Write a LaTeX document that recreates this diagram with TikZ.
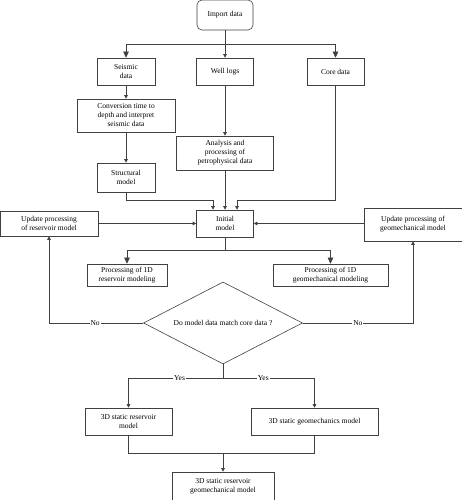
\documentclass[tikz,border=0pt]{standalone}
\usepackage{fontspec}
\setmainfont{Liberation Serif}
\usetikzlibrary{positioning, shapes.geometric, arrows.meta, calc}

\begin{document}
\begin{tikzpicture}[node distance=40pt and 100pt, on grid,
  every node/.style={font=\fontsize{7.5}{9}\selectfont},
  box/.style={draw=black!75, rectangle, align=center, inner sep=1pt, line width=0.6pt},
  lbl/.style={fill=white, inner sep=1pt},
  line/.style={draw=black!75, line width=0.6pt},
  >={Triangle[length=3.5pt, width=3.5pt]},
  big/.style={-{Triangle[length=6pt, width=5.5pt]}}]
  \useasboundingbox (0,0) rectangle (462pt,500pt);

  \node[box, rounded corners=5pt, minimum width=56pt, minimum height=30pt] (import) at (225pt,485pt) {Import data};

  \node[box, minimum width=58pt, minimum height=27pt, below left=56.5pt and 99pt of import] (seismic) {Seismic\\data};
  \node[box, minimum width=57pt, minimum height=27pt, below=56.5pt of import] (welllogs) {Well logs};
  \node[box, minimum width=57pt, minimum height=27pt, below right=56.5pt and 110.5pt of import] (core) {Core data};

  \node[box, minimum width=98pt, minimum height=33pt, below=44pt of seismic] (conversion) {Conversion time to\\depth and interpret\\seismic data};
  \node[box, minimum width=58pt, minimum height=29pt, below=62pt of conversion] (structural) {Structural\\model};
  \node[box, minimum width=97pt, minimum height=34pt, below=81.5pt of welllogs] (analysis) {Analysis and\\processing of\\petrophysical data};

  \node[box, minimum width=57pt, minimum height=27pt, below=70.5pt of analysis] (initial) {Initial\\model};
  \node[box, minimum width=98pt, minimum height=25pt, left=176pt of initial] (updres) {Update processing\\of reservoir model};
  \node[box, minimum width=98pt, minimum height=33pt, right=188pt of initial, yshift=-1pt] (updgeo) {Update processing of\\geomechanical model};

  \node[box, minimum width=80pt, minimum height=22pt, below left=51.5pt and 98pt of initial] (proc1) {Processing of 1D\\reservoir modeling};
  \node[box, minimum width=115pt, minimum height=22pt, below right=51.5pt and 105.5pt of initial] (proc2) {Processing of 1D\\geomechanical modeling};

  \node[draw=black!75, line width=0.6pt, diamond, aspect=1.94, inner sep=0pt, minimum width=159pt, minimum height=82pt, below=99.5pt of initial, xshift=-2pt] (decision) {Do model data match core data ?};

  \node[box, minimum width=87pt, minimum height=27pt, below left=98.5pt and 94.5pt of decision] (res3d) {3D static reservoir\\model};
  \node[box, minimum width=127pt, minimum height=27pt, below right=98.5pt and 91.5pt of decision] (geo3d) {3D static geomechanics model};
  \node[box, minimum width=102pt, minimum height=28pt, below=163pt of decision] (final) {3D static reservoir\\geomechanical model};

  % junction points
  \coordinate (bus1) at ($(import.south)+(0,-14pt)$);
  \coordinate (bus2l) at ($(initial.north)+(-12pt,9pt)$);
  \coordinate (bus2r) at ($(initial.north)+(12pt,9pt)$);
  \coordinate (bus3) at ($(initial.south)+(0,-13pt)$);
  \coordinate (bus4) at ($(decision.south)+(0,-14pt)$);
  \coordinate (bus5) at ($(final.north)+(0,18pt)$);

  \draw[line] (import.south) -- (bus1);
  \draw[line, big] (bus1) -| (seismic.north);
  \draw[line, big] (bus1) -| (core.north);
  \draw[line, ->] (bus1) -- (welllogs.north);
  \draw[line, ->] (seismic) -- (conversion);
  \draw[line, ->] (conversion) -- (structural);
  \draw[line, ->] (welllogs) -- (analysis);
  \draw[line, ->] (analysis) -- (initial);
  \draw[line, ->] (structural.south) |- (bus2l) -- (bus2l |- initial.north);
  \draw[line, ->] (core.south) |- (bus2r) -- (bus2r |- initial.north);
  \draw[line, ->] (updres.east) -- (updres.east -| initial.west);
  \draw[line, ->] (initial.east -| updgeo.west) -- (initial.east);

  \draw[line] (initial.south) -- (bus3);
  \draw[line, big] (bus3) -| (proc1.north);
  \draw[line, big] (bus3) -| (proc2.north);

  \draw[line, ->] (decision.west) -| node[lbl, pos=0.255] {No} (updres.south);
  \draw[line, ->] (decision.east) -| node[lbl, pos=0.25] {No} (updgeo.south);

  \draw[line] (decision.south) -- (bus4);
  \draw[line, ->] (bus4) -| node[lbl, pos=0.23] {Yes} (res3d.north);
  \draw[line, ->] (bus4) -| node[lbl, pos=0.22] {Yes} (geo3d.north);

  \draw[line] (res3d.south) |- (bus5) -| (geo3d.south);
  \draw[line, ->] (bus5) -- (final);
\end{tikzpicture}
\end{document}
